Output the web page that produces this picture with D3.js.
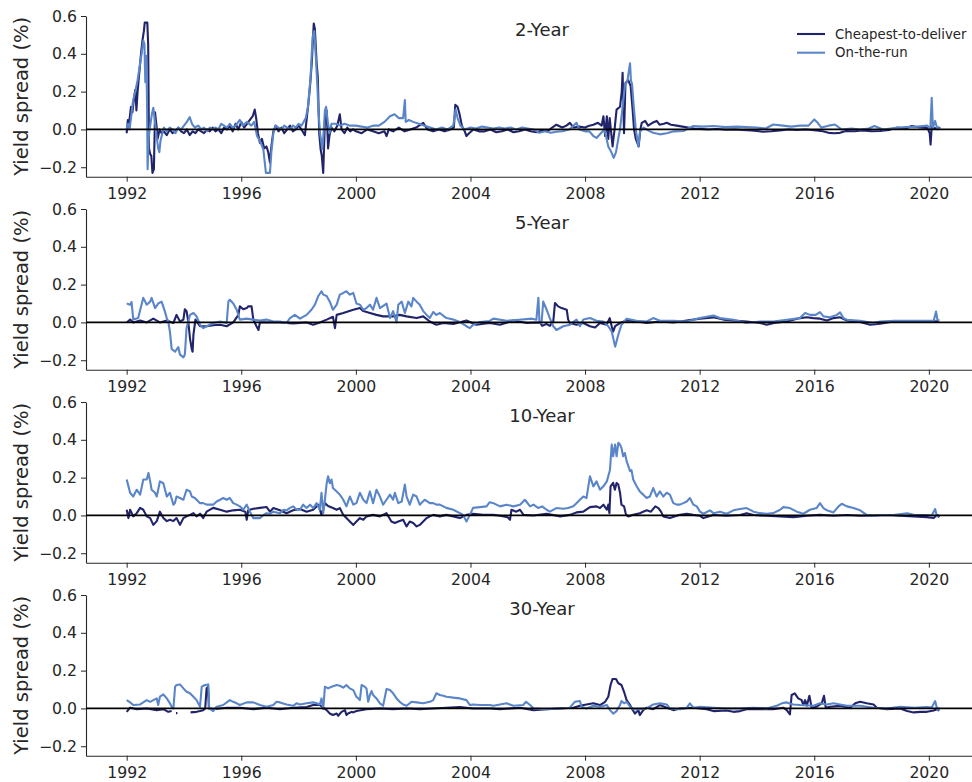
<!DOCTYPE html>
<html>
<head>
<meta charset="utf-8">
<script src="https://cdn.jsdelivr.net/npm/d3@7"></script>
<style>
  body { margin: 0; background: #fff; }
  svg { font-family: "DejaVu Sans", sans-serif; }
</style>
</head>
<body>
<div id="chart"></div>
<script>
const tenors = ["2-Year", "5-Year", "10-Year", "30-Year"]
const seriesNames = ["Cheapest-to-deliver", "On-the-run"]
const xTicks = [1992, 1996, 2000, 2004, 2008, 2012, 2016, 2020]
const yTicks = [-0.2, 0.0, 0.2, 0.4, 0.6]
const yLabel = "Yield spread (%)"

// [year, spread in %]
const ctd2 = [[1992.00,-0.02],[1992.04,0.05],[1992.08,0.03],[1992.12,0.08],[1992.15,0.12],[1992.2,0.09],[1992.25,0.16],[1992.3,0.21],[1992.34,0.10],[1992.38,0.20],[1992.44,0.30],[1992.5,0.40],[1992.55,0.47],[1992.6,0.52],[1992.63,0.565],[1992.72,0.565],[1992.75,0.45],[1992.78,-0.1],[1992.82,-0.13],[1992.86,-0.14],[1992.9,-0.23],[1992.95,-0.21],[1992.99,0.09],[1993.04,0.02],[1993.08,-0.05],[1993.15,0.0],[1993.22,-0.02],[1993.3,-0.01],[1993.4,-0.03],[1993.5,0.0],[1993.6,-0.02],[1993.7,-0.01],[1993.8,0.01],[1993.9,-0.01],[1994.0,-0.02],[1994.1,0.0],[1994.2,-0.03],[1994.3,-0.01],[1994.4,-0.02],[1994.5,0.0],[1994.6,-0.01],[1994.7,-0.02],[1994.8,0.0],[1994.9,-0.01],[1995.0,0.01],[1995.1,-0.01],[1995.2,0.0],[1995.3,-0.02],[1995.4,0.01],[1995.5,0.0],[1995.6,0.02],[1995.7,-0.01],[1995.8,0.03],[1995.9,0.0],[1996.0,0.04],[1996.1,0.01],[1996.2,0.03],[1996.3,0.05],[1996.4,0.07],[1996.47,0.105],[1996.52,0.06],[1996.58,-0.02],[1996.65,-0.07],[1996.72,-0.05],[1996.8,-0.1],[1996.88,-0.09],[1996.94,-0.12],[1997.0,-0.175],[1997.05,-0.09],[1997.12,-0.01],[1997.2,0.02],[1997.3,-0.01],[1997.4,0.01],[1997.5,-0.02],[1997.6,0.0],[1997.7,0.02],[1997.8,-0.01],[1997.9,0.0],[1998.0,0.02],[1998.1,0.0],[1998.22,-0.03],[1998.28,0.05],[1998.35,0.15],[1998.4,0.23],[1998.46,0.35],[1998.53,0.56],[1998.57,0.53],[1998.63,0.35],[1998.67,0.28],[1998.72,-0.02],[1998.77,-0.105],[1998.81,-0.14],[1998.86,-0.23],[1998.92,0.05],[1998.98,0.1],[1999.03,-0.1],[1999.08,-0.03],[1999.15,0.01],[1999.25,-0.01],[1999.35,0.02],[1999.44,0.08],[1999.5,0.0],[1999.6,-0.02],[1999.7,0.01],[1999.8,-0.01],[1999.9,0.0],[2000.0,-0.01],[2000.2,-0.02],[2000.4,0.0],[2000.6,-0.01],[2000.8,-0.02],[2001.0,-0.01],[2001.07,-0.035],[2001.15,0.0],[2001.3,-0.01],[2001.5,0.01],[2001.7,-0.01],[2001.9,0.0],[2002.1,0.01],[2002.35,0.035],[2002.5,0.0],[2002.7,-0.01],[2002.9,0.0],[2003.1,-0.01],[2003.3,0.0],[2003.42,0.01],[2003.47,0.13],[2003.55,0.12],[2003.62,0.08],[2003.7,0.02],[2003.8,-0.01],[2003.86,-0.035],[2003.95,-0.02],[2004.1,0.0],[2004.3,-0.01],[2004.5,-0.01],[2004.7,0.0],[2004.9,-0.015],[2005.1,-0.01],[2005.3,0.0],[2005.5,-0.015],[2005.7,-0.01],[2005.9,0.0],[2006.1,-0.01],[2006.3,-0.015],[2006.5,-0.005],[2006.7,-0.01],[2006.85,0.01],[2007.0,0.025],[2007.2,0.01],[2007.35,0.02],[2007.47,0.035],[2007.6,0.01],[2007.8,0.015],[2008.0,0.01],[2008.15,0.02],[2008.29,0.025],[2008.45,0.035],[2008.58,0.02],[2008.64,0.07],[2008.7,-0.035],[2008.76,0.07],[2008.81,-0.05],[2008.86,0.06],[2008.96,-0.09],[2009.03,0.0],[2009.1,0.105],[2009.22,0.12],[2009.28,0.2],[2009.31,0.3],[2009.36,-0.02],[2009.41,0.245],[2009.51,0.26],[2009.59,0.23],[2009.66,0.105],[2009.71,0.0],[2009.77,-0.05],[2009.87,-0.09],[2009.93,0.0],[2009.98,0.035],[2010.1,0.045],[2010.2,0.02],[2010.35,0.035],[2010.5,0.045],[2010.6,0.025],[2010.75,0.03],[2010.85,0.035],[2011.0,0.025],[2011.2,0.02],[2011.4,0.015],[2011.6,0.01],[2011.8,0.005],[2012.0,0.003],[2012.3,0.0],[2012.6,0.002],[2012.9,-0.002],[2013.2,0.0],[2013.5,-0.003],[2013.8,-0.005],[2014.0,-0.008],[2014.2,-0.012],[2014.5,-0.01],[2014.8,-0.005],[2015.1,0.0],[2015.4,-0.003],[2015.7,0.0],[2016.0,-0.004],[2016.3,-0.01],[2016.5,-0.018],[2016.7,-0.02],[2016.9,-0.018],[2017.1,-0.008],[2017.4,-0.01],[2017.7,-0.006],[2018.0,-0.01],[2018.3,-0.008],[2018.6,-0.003],[2018.9,0.01],[2019.2,0.005],[2019.4,0.018],[2019.7,0.01],[2019.95,0.008],[2020.03,-0.02],[2020.06,-0.08],[2020.1,0.015],[2020.2,0.005],[2020.33,0.01],[2020.4,0.008]]
const otr2 = [[1992.0,0.0],[1992.05,0.03],[1992.1,0.0],[1992.15,0.06],[1992.22,0.15],[1992.3,0.2],[1992.38,0.26],[1992.45,0.33],[1992.52,0.4],[1992.58,0.47],[1992.62,0.45],[1992.65,0.25],[1992.68,0.39],[1992.71,0.15],[1992.73,-0.21],[1992.77,-0.04],[1992.82,0.02],[1992.88,0.08],[1992.93,0.115],[1992.98,0.05],[1993.03,-0.02],[1993.1,-0.1],[1993.14,-0.12],[1993.18,-0.06],[1993.23,-0.03],[1993.3,0.01],[1993.4,-0.01],[1993.5,0.01],[1993.6,0.0],[1993.7,-0.02],[1993.8,0.01],[1993.9,0.0],[1994.0,0.02],[1994.1,0.04],[1994.2,0.065],[1994.28,0.03],[1994.38,0.01],[1994.5,0.02],[1994.6,0.0],[1994.7,0.01],[1994.8,-0.01],[1994.9,0.01],[1995.0,0.0],[1995.1,0.01],[1995.2,0.0],[1995.3,0.03],[1995.4,0.02],[1995.5,0.01],[1995.6,0.03],[1995.7,0.01],[1995.8,0.02],[1995.95,0.05],[1996.05,0.02],[1996.2,0.04],[1996.35,0.02],[1996.45,0.04],[1996.55,-0.035],[1996.65,-0.06],[1996.77,-0.105],[1996.86,-0.23],[1997.0,-0.23],[1997.05,-0.12],[1997.12,-0.02],[1997.2,0.02],[1997.3,0.01],[1997.4,0.0],[1997.5,0.02],[1997.6,0.01],[1997.7,0.0],[1997.8,0.02],[1997.9,0.01],[1998.0,0.03],[1998.1,0.02],[1998.16,0.035],[1998.25,0.06],[1998.33,0.12],[1998.42,0.28],[1998.49,0.49],[1998.55,0.52],[1998.6,0.39],[1998.66,0.22],[1998.69,0.1],[1998.75,-0.02],[1998.83,-0.105],[1998.88,0.0],[1998.92,0.1],[1998.96,0.12],[1999.02,0.04],[1999.08,-0.02],[1999.15,0.03],[1999.3,0.03],[1999.45,0.02],[1999.6,0.03],[1999.8,0.02],[2000.0,0.02],[2000.2,0.015],[2000.4,0.01],[2000.6,0.02],[2000.8,0.02],[2001.0,0.04],[2001.19,0.07],[2001.35,0.08],[2001.5,0.06],[2001.65,0.06],[2001.71,0.155],[2001.74,0.04],[2001.85,0.05],[2002.0,0.04],[2002.2,0.03],[2002.4,0.02],[2002.6,0.01],[2002.8,0.0],[2003.0,0.01],[2003.2,0.0],[2003.4,0.02],[2003.48,0.105],[2003.55,0.06],[2003.65,0.02],[2003.8,0.0],[2004.0,0.01],[2004.2,0.005],[2004.4,0.015],[2004.6,0.01],[2004.8,0.005],[2005.0,0.01],[2005.2,0.005],[2005.4,0.01],[2005.6,0.0],[2005.8,0.01],[2006.0,0.005],[2006.2,0.0],[2006.4,-0.018],[2006.6,-0.01],[2006.8,-0.018],[2007.0,-0.012],[2007.2,-0.01],[2007.45,0.0],[2007.7,0.035],[2007.8,0.0],[2008.0,-0.01],[2008.15,-0.01],[2008.29,-0.035],[2008.4,-0.045],[2008.55,-0.02],[2008.68,0.0],[2008.81,-0.09],[2008.9,-0.115],[2009.0,-0.15],[2009.08,-0.12],[2009.16,-0.05],[2009.22,0.0],[2009.31,0.12],[2009.39,0.23],[2009.48,0.26],[2009.57,0.35],[2009.6,0.26],[2009.64,0.24],[2009.7,0.12],[2009.77,0.0],[2009.86,-0.09],[2009.92,-0.01],[2010.05,0.01],[2010.2,-0.005],[2010.38,-0.018],[2010.61,-0.026],[2010.85,-0.02],[2011.1,-0.01],[2011.43,-0.008],[2011.6,0.005],[2011.78,0.018],[2012.1,0.015],[2012.48,0.018],[2012.9,0.012],[2013.3,0.015],[2013.64,0.012],[2014.0,0.01],[2014.3,0.005],[2014.57,0.026],[2014.9,0.02],[2015.2,0.015],[2015.5,0.02],[2015.8,0.02],[2016.0,0.053],[2016.12,0.035],[2016.25,0.01],[2016.5,0.02],[2016.72,0.026],[2016.95,0.0],[2017.3,0.005],[2017.6,0.0],[2017.9,0.005],[2018.1,0.018],[2018.4,0.0],[2018.8,0.008],[2019.2,0.012],[2019.6,0.015],[2019.95,0.02],[2020.05,0.0],[2020.1,0.167],[2020.14,0.01],[2020.22,0.045],[2020.3,0.0],[2020.38,0.01]]

const ctd5 = [[1992.0,0.0],[1992.12,0.015],[1992.23,0.0],[1992.47,0.01],[1992.7,0.0],[1992.93,0.02],[1993.16,0.0],[1993.4,0.01],[1993.63,-0.003],[1993.74,0.04],[1993.86,0.005],[1993.98,0.015],[1994.03,0.07],[1994.09,0.06],[1994.15,0.005],[1994.21,-0.085],[1994.27,-0.14],[1994.3,-0.155],[1994.33,-0.065],[1994.4,0.015],[1994.56,-0.02],[1994.8,-0.02],[1995.02,-0.015],[1995.26,-0.012],[1995.49,-0.02],[1995.72,0.0],[1995.9,0.04],[1995.95,0.085],[1996.07,0.07],[1996.19,0.076],[1996.24,0.085],[1996.36,0.085],[1996.42,0.015],[1996.53,-0.02],[1996.6,-0.04],[1996.65,0.0],[1996.88,0.0],[1997.35,0.0],[1997.81,-0.005],[1998.28,0.0],[1998.51,-0.012],[1998.74,0.0],[1998.98,0.015],[1999.2,0.03],[1999.27,-0.03],[1999.33,0.04],[1999.56,0.05],[1999.91,0.067],[2000.14,0.076],[2000.26,0.06],[2000.49,0.05],[2000.72,0.04],[2000.95,0.032],[2001.3,0.032],[2001.53,0.04],[2001.77,0.032],[2002.12,0.023],[2002.35,0.032],[2002.58,0.005],[2002.81,-0.012],[2003.05,-0.003],[2003.4,-0.008],[2003.86,0.01],[2004.2,-0.012],[2004.67,-0.003],[2005.03,-0.012],[2005.5,0.01],[2005.96,-0.003],[2006.43,0.0],[2006.5,-0.018],[2006.65,-0.008],[2006.77,-0.018],[2006.89,0.005],[2006.95,0.103],[2007.06,0.085],[2007.18,0.076],[2007.36,0.067],[2007.41,0.015],[2007.47,-0.003],[2007.7,-0.012],[2007.94,-0.003],[2008.17,-0.02],[2008.35,-0.027],[2008.52,-0.003],[2008.75,-0.012],[2008.86,0.023],[2008.93,-0.02],[2008.98,-0.048],[2009.05,-0.02],[2009.22,-0.003],[2009.45,0.01],[2009.8,0.005],[2010.15,-0.003],[2010.61,0.005],[2011.08,0.0],[2011.55,0.01],[2012.01,0.02],[2012.48,0.027],[2012.83,0.015],[2013.18,0.01],[2013.64,0.005],[2014.11,-0.003],[2014.34,-0.012],[2014.6,-0.003],[2015.04,0.005],[2015.5,0.023],[2015.74,0.027],[2015.97,0.023],[2016.2,0.02],[2016.44,0.01],[2016.67,0.023],[2016.9,0.027],[2017.14,0.01],[2017.6,0.002],[2017.95,-0.012],[2018.3,-0.007],[2018.77,0.005],[2019.24,0.005],[2019.7,0.005],[2020.17,0.005],[2020.35,0.008]]
const otr5 = [[1992.0,0.1],[1992.12,0.094],[1992.17,0.108],[1992.23,0.015],[1992.4,0.023],[1992.58,0.13],[1992.7,0.094],[1992.82,0.11],[1992.87,0.13],[1992.99,0.076],[1993.1,0.1],[1993.22,0.11],[1993.33,0.06],[1993.4,0.023],[1993.45,0.005],[1993.51,-0.05],[1993.57,-0.14],[1993.69,-0.155],[1993.8,-0.13],[1993.86,-0.17],[1993.98,-0.185],[1994.03,-0.17],[1994.09,-0.03],[1994.21,0.04],[1994.33,0.05],[1994.44,0.032],[1994.56,-0.012],[1994.67,-0.03],[1994.79,-0.02],[1995.02,-0.003],[1995.26,0.005],[1995.49,-0.003],[1995.55,0.11],[1995.6,0.12],[1995.72,0.1],[1995.84,0.067],[1995.95,0.015],[1996.19,0.02],[1996.42,0.015],[1996.65,0.01],[1996.88,0.015],[1997.12,0.005],[1997.35,0.005],[1997.58,-0.003],[1997.7,0.023],[1997.87,0.04],[1998.05,0.02],[1998.28,0.04],[1998.45,0.067],[1998.57,0.094],[1998.69,0.14],[1998.8,0.165],[1998.86,0.147],[1998.98,0.14],[1999.09,0.11],[1999.2,0.067],[1999.33,0.094],[1999.44,0.147],[1999.56,0.156],[1999.67,0.165],[1999.79,0.147],[1999.91,0.156],[2000.02,0.1],[2000.14,0.094],[2000.26,0.067],[2000.37,0.076],[2000.49,0.094],[2000.6,0.067],[2000.72,0.13],[2000.84,0.076],[2001.07,0.1],[2001.19,0.023],[2001.3,0.06],[2001.42,0.0],[2001.48,0.094],[2001.6,0.11],[2001.71,0.05],[2001.83,0.11],[2001.94,0.085],[2002.0,0.13],[2002.12,0.11],[2002.23,0.094],[2002.35,0.06],[2002.47,0.04],[2002.58,0.023],[2002.7,0.055],[2002.81,0.04],[2002.93,0.05],[2003.16,0.023],[2003.4,0.015],[2003.63,0.002],[2003.86,-0.02],[2003.98,-0.03],[2004.09,-0.012],[2004.33,0.002],[2004.67,0.008],[2004.8,0.02],[2005.26,0.009],[2005.7,0.014],[2006.15,0.02],[2006.3,0.014],[2006.37,0.13],[2006.41,0.0],[2006.48,-0.003],[2006.54,0.11],[2006.66,0.067],[2006.77,0.023],[2006.89,-0.02],[2007.0,-0.04],[2007.24,-0.02],[2007.47,-0.012],[2007.7,0.015],[2007.82,-0.02],[2007.94,0.015],[2008.17,0.023],[2008.4,0.009],[2008.64,0.005],[2008.81,-0.02],[2008.93,-0.048],[2009.05,-0.128],[2009.16,-0.065],[2009.27,-0.012],[2009.45,0.02],[2009.8,0.009],[2010.15,0.005],[2010.38,0.023],[2010.61,0.009],[2011.08,0.009],[2011.55,0.005],[2012.01,0.023],[2012.48,0.037],[2012.71,0.023],[2013.18,0.014],[2013.64,-0.003],[2014.11,0.005],[2014.57,0.005],[2015.04,0.014],[2015.5,0.023],[2015.68,0.05],[2015.85,0.04],[2016.05,0.04],[2016.2,0.055],[2016.32,0.032],[2016.55,0.027],[2016.79,0.04],[2016.9,0.053],[2017.02,0.023],[2017.14,0.014],[2017.6,0.009],[2018.07,-0.003],[2018.3,0.005],[2018.77,0.009],[2019.24,0.009],[2019.7,0.009],[2020.17,0.009],[2020.25,0.058],[2020.3,0.014],[2020.37,0.009]]

const ctd10 = [[1992.0,0.03],[1992.06,-0.014],[1992.12,0.03],[1992.23,-0.005],[1992.35,0.012],[1992.47,0.04],[1992.58,0.03],[1992.7,-0.005],[1992.82,-0.014],[1992.93,-0.05],[1993.05,-0.03],[1993.16,0.02],[1993.28,-0.014],[1993.4,-0.03],[1993.51,-0.023],[1993.63,-0.03],[1993.74,-0.014],[1993.86,-0.05],[1993.98,-0.014],[1994.09,-0.005],[1994.21,0.003],[1994.33,0.012],[1994.44,-0.005],[1994.56,0.009],[1994.67,-0.014],[1994.79,0.02],[1995.02,0.04],[1995.26,0.03],[1995.49,0.02],[1995.72,0.027],[1995.95,0.03],[1996.14,0.02],[1996.19,-0.023],[1996.24,0.027],[1996.42,0.035],[1996.65,0.04],[1996.88,0.045],[1997.0,0.02],[1997.12,0.039],[1997.35,0.027],[1997.58,0.012],[1997.81,0.027],[1998.05,0.034],[1998.28,0.02],[1998.51,0.03],[1998.69,0.057],[1998.8,0.003],[1998.92,0.065],[1999.03,0.05],[1999.2,0.039],[1999.33,0.03],[1999.44,0.039],[1999.56,0.003],[1999.67,-0.014],[1999.79,-0.032],[1999.91,-0.05],[2000.02,-0.032],[2000.14,-0.014],[2000.26,-0.023],[2000.37,-0.005],[2000.6,0.003],[2000.84,-0.005],[2001.07,0.012],[2001.24,-0.032],[2001.36,-0.04],[2001.48,-0.032],[2001.65,-0.023],[2001.77,-0.058],[2001.88,-0.032],[2002.0,-0.04],[2002.12,-0.058],[2002.23,-0.05],[2002.35,-0.032],[2002.47,-0.014],[2002.58,-0.005],[2002.7,0.003],[2002.93,-0.005],[2003.16,0.003],[2003.4,-0.005],[2003.63,-0.014],[2003.86,0.003],[2004.09,0.009],[2004.44,0.003],[2004.8,0.003],[2005.03,-0.002],[2005.3,-0.01],[2005.38,-0.023],[2005.43,0.03],[2005.6,0.02],[2005.73,0.03],[2005.85,0.003],[2006.2,0.0],[2006.66,0.009],[2007.13,-0.005],[2007.47,0.003],[2007.7,0.016],[2007.94,0.02],[2008.17,0.044],[2008.4,0.048],[2008.52,0.039],[2008.64,0.057],[2008.76,0.03],[2008.81,0.057],[2008.85,0.012],[2008.89,0.154],[2008.98,0.172],[2009.04,0.136],[2009.1,0.172],[2009.16,0.163],[2009.22,0.12],[2009.27,0.057],[2009.36,0.048],[2009.43,0.003],[2009.51,-0.005],[2009.68,0.003],[2009.91,0.012],[2010.15,0.027],[2010.3,0.02],[2010.45,0.048],[2010.56,0.039],[2010.65,0.02],[2010.73,-0.005],[2010.96,-0.014],[2011.31,0.003],[2011.55,0.009],[2011.78,0.003],[2012.01,-0.002],[2012.13,-0.014],[2012.48,0.002],[2012.94,-0.002],[2013.41,0.002],[2013.64,0.012],[2013.88,0.002],[2014.34,-0.002],[2014.81,-0.005],[2015.27,-0.009],[2015.74,-0.002],[2016.2,0.003],[2016.67,-0.002],[2017.14,0.002],[2017.6,-0.002],[2018.07,0.0],[2018.53,0.002],[2019.0,-0.002],[2019.47,-0.005],[2019.93,-0.009],[2020.17,-0.014],[2020.28,0.003],[2020.37,-0.009]]
const otr10 = [[1992.0,0.19],[1992.06,0.155],[1992.12,0.12],[1992.23,0.1],[1992.35,0.136],[1992.47,0.11],[1992.58,0.19],[1992.7,0.19],[1992.76,0.225],[1992.82,0.18],[1992.87,0.136],[1992.99,0.12],[1993.05,0.1],[1993.16,0.18],[1993.28,0.17],[1993.4,0.1],[1993.51,0.12],[1993.63,0.057],[1993.68,0.065],[1993.74,0.1],[1993.86,0.092],[1993.98,0.083],[1994.09,0.136],[1994.21,0.127],[1994.27,0.1],[1994.38,0.092],[1994.56,0.065],[1994.67,0.065],[1994.79,0.057],[1995.02,0.057],[1995.14,0.074],[1995.26,0.083],[1995.37,0.092],[1995.49,0.083],[1995.6,0.092],[1995.72,0.065],[1995.84,0.057],[1995.95,0.048],[1996.07,0.03],[1996.19,0.057],[1996.3,0.02],[1996.42,-0.014],[1996.65,-0.014],[1996.76,0.0],[1996.88,0.012],[1997.0,0.009],[1997.12,0.02],[1997.35,0.012],[1997.47,0.03],[1997.58,0.027],[1997.7,0.04],[1997.81,0.048],[1997.93,0.03],[1998.05,0.03],[1998.16,0.057],[1998.28,0.039],[1998.4,0.057],[1998.51,0.039],[1998.63,0.065],[1998.74,0.03],[1998.8,0.12],[1998.86,0.012],[1998.92,0.083],[1998.98,0.17],[1999.03,0.207],[1999.09,0.17],[1999.15,0.19],[1999.2,0.145],[1999.33,0.127],[1999.44,0.11],[1999.56,0.083],[1999.67,0.048],[1999.79,0.1],[1999.91,0.057],[2000.02,0.065],[2000.14,0.12],[2000.26,0.083],[2000.37,0.065],[2000.49,0.127],[2000.6,0.065],[2000.72,0.136],[2000.84,0.1],[2000.95,0.057],[2001.07,0.083],[2001.19,0.11],[2001.3,0.083],[2001.36,0.12],[2001.48,0.065],[2001.6,0.074],[2001.71,0.163],[2001.77,0.1],[2001.88,0.057],[2002.0,0.11],[2002.12,0.1],[2002.23,0.057],[2002.4,0.083],[2002.58,0.065],[2002.7,0.065],[2002.81,0.057],[2002.93,0.057],[2003.16,0.04],[2003.4,0.03],[2003.63,0.012],[2003.74,0.003],[2003.86,-0.032],[2003.98,0.003],[2004.09,0.04],[2004.33,0.044],[2004.56,0.048],[2004.67,0.07],[2004.8,0.065],[2005.03,0.048],[2005.26,0.057],[2005.5,0.048],[2005.73,0.057],[2005.9,0.083],[2006.08,0.048],[2006.2,0.057],[2006.37,0.039],[2006.5,0.048],[2006.66,0.03],[2006.77,0.02],[2007.0,0.039],[2007.24,0.035],[2007.41,0.039],[2007.59,0.048],[2007.7,0.065],[2007.82,0.083],[2007.94,0.1],[2008.05,0.092],[2008.17,0.207],[2008.29,0.154],[2008.4,0.18],[2008.52,0.136],[2008.64,0.154],[2008.76,0.18],[2008.81,0.207],[2008.87,0.242],[2008.93,0.375],[2008.98,0.313],[2009.05,0.375],[2009.1,0.313],[2009.16,0.384],[2009.22,0.375],[2009.27,0.357],[2009.33,0.313],[2009.39,0.33],[2009.45,0.287],[2009.57,0.234],[2009.62,0.24],[2009.68,0.19],[2009.8,0.154],[2009.91,0.127],[2010.03,0.11],[2010.15,0.092],[2010.26,0.1],[2010.38,0.145],[2010.5,0.1],[2010.61,0.127],[2010.73,0.1],[2010.85,0.12],[2010.96,0.11],[2011.08,0.065],[2011.2,0.057],[2011.31,0.057],[2011.43,0.065],[2011.55,0.074],[2011.66,0.092],[2011.78,0.057],[2011.9,0.048],[2012.01,0.02],[2012.13,0.009],[2012.36,0.027],[2012.48,0.012],[2012.71,0.02],[2012.94,0.009],[2013.18,0.027],[2013.41,0.034],[2013.64,0.039],[2013.88,0.02],[2014.11,0.012],[2014.34,0.009],[2014.57,0.012],[2014.81,0.03],[2014.92,0.044],[2015.15,0.039],[2015.39,0.02],[2015.62,0.009],[2015.85,0.03],[2016.08,0.039],[2016.2,0.065],[2016.32,0.039],[2016.44,0.027],[2016.67,0.016],[2016.85,0.048],[2016.96,0.062],[2017.14,0.048],[2017.37,0.039],[2017.6,0.027],[2017.83,0.003],[2018.07,-0.002],[2018.3,0.002],[2018.77,0.002],[2019.24,0.012],[2019.47,0.003],[2019.93,0.002],[2020.1,0.0],[2020.22,0.034],[2020.28,-0.005],[2020.37,0.002]]

// null = gap in the series
const ctd30 = [[1992.0,-0.018],[1992.12,0.004],[1992.35,-0.004],[1992.7,0.0],[1993.05,-0.009],[1993.28,-0.004],[1993.45,-0.018],[1993.57,-0.014],[1993.58,null],[1993.72,-0.025],[1993.77,-0.025],[1993.78,null],[1994.23,-0.021],[1994.44,-0.018],[1994.56,-0.014],[1994.67,-0.009],[1994.74,0.0],[1994.79,0.106],[1994.84,0.115],[1994.87,0.0],[1995.02,-0.004],[1995.49,0.004],[1995.95,0.004],[1996.42,-0.004],[1996.88,0.004],[1997.35,-0.004],[1997.81,0.004],[1998.28,0.007],[1998.51,0.018],[1998.74,0.018],[1998.86,0.004],[1998.98,-0.009],[1999.09,-0.027],[1999.2,-0.035],[1999.33,-0.027],[1999.38,-0.039],[1999.5,-0.018],[1999.62,-0.009],[1999.67,-0.035],[1999.73,-0.027],[1999.85,-0.018],[1999.91,-0.021],[2000.02,-0.014],[2000.37,-0.004],[2000.84,0.0],[2001.3,-0.004],[2001.77,0.0],[2002.23,-0.004],[2002.7,0.0],[2003.16,0.004],[2003.63,0.007],[2004.09,0.0],[2004.67,0.0],[2005.03,-0.004],[2005.73,0.004],[2006.2,-0.009],[2006.66,-0.004],[2007.13,0.0],[2007.59,0.004],[2007.82,0.014],[2008.05,0.021],[2008.29,0.027],[2008.52,0.018],[2008.7,0.035],[2008.81,0.062],[2008.89,0.124],[2008.96,0.156],[2009.08,0.156],[2009.16,0.133],[2009.27,0.124],[2009.36,0.088],[2009.45,0.044],[2009.57,0.018],[2009.63,0.0],[2009.74,-0.027],[2009.86,-0.009],[2009.91,-0.035],[2010.03,-0.009],[2010.15,0.004],[2010.38,-0.004],[2010.61,0.018],[2010.85,0.004],[2011.08,-0.009],[2011.31,0.0],[2011.78,0.004],[2012.24,-0.004],[2012.48,-0.014],[2012.94,-0.011],[2013.18,-0.018],[2013.41,-0.014],[2013.64,-0.004],[2014.11,-0.004],[2014.57,-0.004],[2014.92,0.004],[2015.04,-0.009],[2015.15,-0.032],[2015.21,0.071],[2015.32,0.08],[2015.44,0.053],[2015.56,0.044],[2015.62,0.018],[2015.68,0.044],[2015.74,0.014],[2015.83,0.067],[2015.91,0.004],[2016.08,0.009],[2016.26,0.027],[2016.34,0.067],[2016.4,0.004],[2016.55,0.009],[2016.9,0.014],[2017.25,0.004],[2017.43,0.027],[2017.6,0.035],[2017.83,0.027],[2018.07,0.021],[2018.18,0.004],[2018.53,-0.004],[2019.0,0.0],[2019.24,-0.014],[2019.47,-0.021],[2019.7,-0.018],[2019.93,-0.018],[2020.17,-0.011],[2020.28,-0.004],[2020.37,-0.011]]
const otr30 = [[1992.0,0.044],[1992.12,0.032],[1992.23,0.018],[1992.47,0.021],[1992.7,0.044],[1992.82,0.035],[1992.93,0.044],[1993.05,0.053],[1993.1,0.018],[1993.16,0.062],[1993.28,0.074],[1993.4,0.053],[1993.51,0.027],[1993.57,0.009],[1993.63,0.0],[1993.69,0.115],[1993.74,0.124],[1993.86,0.127],[1993.98,0.106],[1994.09,0.088],[1994.21,0.08],[1994.33,0.062],[1994.44,0.044],[1994.56,0.009],[1994.62,0.115],[1994.73,0.124],[1994.85,0.127],[1994.88,0.0],[1995.02,-0.014],[1995.14,0.009],[1995.37,0.018],[1995.6,0.044],[1995.72,0.035],[1995.84,0.027],[1995.95,0.018],[1996.19,0.032],[1996.42,0.032],[1996.65,0.018],[1996.88,0.009],[1997.12,0.018],[1997.23,0.035],[1997.35,0.032],[1997.58,0.021],[1997.81,0.014],[1997.93,0.027],[1998.05,0.021],[1998.28,0.027],[1998.51,0.032],[1998.63,0.027],[1998.74,0.021],[1998.8,0.053],[1998.86,-0.004],[1998.92,0.115],[1999.03,0.106],[1999.15,0.115],[1999.33,0.124],[1999.44,0.12],[1999.56,0.11],[1999.67,0.124],[1999.79,0.106],[1999.91,0.097],[2000.02,0.062],[2000.14,0.044],[2000.2,0.124],[2000.31,0.115],[2000.37,0.106],[2000.43,0.035],[2000.49,0.071],[2000.55,0.092],[2000.6,0.071],[2000.72,0.053],[2000.84,0.027],[2000.95,0.014],[2001.07,0.103],[2001.19,0.097],[2001.3,0.08],[2001.42,0.053],[2001.53,0.035],[2001.65,0.021],[2001.77,0.014],[2001.94,0.035],[2002.12,0.032],[2002.35,0.027],[2002.58,0.035],[2002.7,0.044],[2002.81,0.08],[2002.93,0.071],[2003.05,0.067],[2003.16,0.062],[2003.4,0.057],[2003.63,0.053],[2003.86,0.044],[2003.98,0.018],[2004.09,0.021],[2004.33,0.018],[2004.67,0.018],[2004.8,0.014],[2005.26,0.027],[2005.5,0.014],[2005.84,0.018],[2005.94,0.035],[2006.08,0.018],[2006.2,0.0],[2006.66,-0.004],[2007.13,0.0],[2007.47,0.004],[2007.64,0.035],[2007.82,0.039],[2007.88,0.009],[2008.05,0.0],[2008.29,0.014],[2008.52,0.009],[2008.76,0.018],[2008.87,-0.009],[2008.98,-0.027],[2009.1,-0.014],[2009.22,0.018],[2009.27,0.039],[2009.36,0.027],[2009.45,0.035],[2009.57,0.009],[2009.68,-0.004],[2009.91,-0.004],[2010.15,0.0],[2010.38,0.021],[2010.61,0.027],[2010.85,0.021],[2010.96,0.0],[2011.31,-0.004],[2011.55,0.004],[2011.66,0.027],[2011.78,0.004],[2012.01,0.009],[2012.48,0.004],[2012.94,0.0],[2013.41,0.0],[2013.88,0.004],[2014.34,0.0],[2014.69,0.014],[2014.87,0.027],[2015.04,0.032],[2015.27,0.021],[2015.5,0.018],[2015.97,0.014],[2016.2,0.027],[2016.44,0.021],[2016.67,0.027],[2016.9,0.021],[2017.14,0.014],[2017.6,0.014],[2018.07,0.004],[2018.53,0.0],[2019.0,0.009],[2019.47,0.004],[2019.93,0.007],[2020.1,0.005],[2020.22,0.039],[2020.3,-0.009],[2020.37,0.004]]

const panels = [
  {title: tenors[0], ctd: ctd2, otr: otr2},
  {title: tenors[1], ctd: ctd5, otr: otr5},
  {title: tenors[2], ctd: ctd10, otr: otr10},
  {title: tenors[3], ctd: ctd30, otr: otr30}
]

const WIDTH = 972
const HEIGHT = 782
const LEFT = 86
const PANEL_TOP = 16
const PANEL_STEP = 193
const PANEL_H = 160.7
const COLORS = ["#21246b", "#5a86c9"]
const TEXT = "#262626"

const svg = d3.select("#chart")
  .append("svg")
    .attr("width", WIDTH)
    .attr("height", HEIGHT)

const x = d3.scaleLinear()
  .domain([1990.58, 2021.82])
  .range([LEFT, 981])

panels.forEach((p, i) => {
  const top = PANEL_TOP + i * PANEL_STEP
  const y = d3.scaleLinear()
    .domain([-0.25, 0.6])
    .range([top + PANEL_H, top])

  const g = svg.append("g")

  const xAxis = g.append("g")
    .attr("transform", `translate(0, ${top + PANEL_H})`)
    .call(d3.axisBottom(x).tickValues(xTicks).tickFormat(d3.format("d"))
      .tickSize(5).tickSizeOuter(0).tickPadding(6))
  const yAxis = g.append("g")
    .attr("transform", `translate(${LEFT}, 0)`)
    .call(d3.axisLeft(y).tickValues(yTicks).tickFormat(d3.format(".1f"))
      .tickSize(5).tickSizeOuter(0).tickPadding(4))

  ;[xAxis, yAxis].forEach(a => {
    a.selectAll("text").attr("fill", TEXT).style("font-size", "15.7px")
      .style("font-family", "DejaVu Sans")
    a.selectAll("line").attr("stroke", TEXT)
    a.select(".domain").attr("stroke", TEXT).attr("stroke-width", 1.1)
  })

  g.append("text")
    .attr("transform", `translate(28, ${top + PANEL_H / 2}) rotate(-90)`)
    .attr("text-anchor", "middle")
    .attr("fill", TEXT)
    .style("font-size", "19.5px")
    .text(yLabel)

  g.append("text")
    .attr("x", 542)
    .attr("y", top + 20)
    .attr("text-anchor", "middle")
    .attr("fill", TEXT)
    .style("font-size", "18px")
    .text(p.title)

  const line = d3.line()
    .defined(d => d[1] !== null)
    .x(d => x(d[0]))
    .y(d => y(d[1]))

  ;[p.ctd, p.otr].forEach((s, k) => {
    g.append("path")
      .datum(s)
      .attr("fill", "none")
      .attr("stroke", COLORS[k])
      .attr("stroke-width", 2.1)
      .attr("stroke-linejoin", "round")
      .attr("d", line)
  })

  // zero line
  g.append("line")
    .attr("x1", x.range()[0])
    .attr("x2", x.range()[1])
    .attr("y1", y(0))
    .attr("y2", y(0))
    .attr("stroke", "#000")
    .attr("stroke-width", 1.8)

  if (i === 0) {
    const legend = g.append("g")
    seriesNames.forEach((name, k) => {
      const ly = 34 + k * 18.7
      legend.append("line")
        .attr("x1", 797).attr("x2", 825)
        .attr("y1", ly).attr("y2", ly)
        .attr("stroke", COLORS[k])
        .attr("stroke-width", 2.1)
      legend.append("text")
        .attr("x", 835)
        .attr("y", ly)
        .attr("dy", "0.35em")
        .attr("fill", TEXT)
        .style("font-size", "13.3px")
        .text(name)
    })
  }
})
</script>
</body>
</html>
